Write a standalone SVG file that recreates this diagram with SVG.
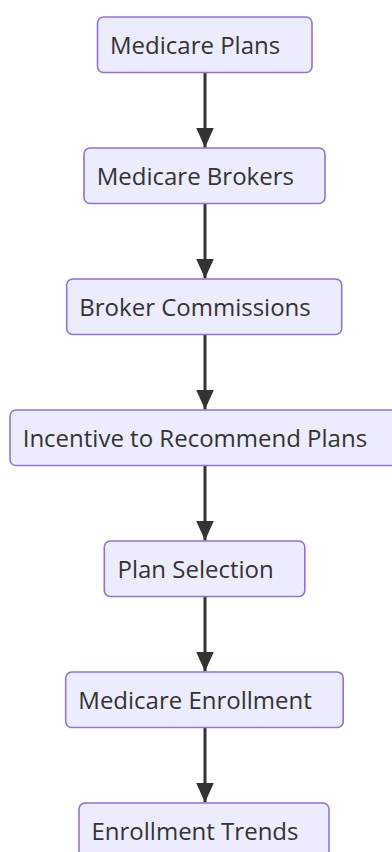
<svg xmlns="http://www.w3.org/2000/svg" width="392" height="852" viewBox="0 0 392 852">
  <style>
    .node rect { fill: #ECECFF; stroke: #9370DB; stroke-width: 1.6; }
    .node text { font-family: "Open Sans", "Noto Sans", "Liberation Sans", sans-serif; font-size: 24px; fill: #333333; }
    .edges line { stroke: #333333; stroke-width: 3; }
  </style>
  <defs>
    <marker id="arrow" markerUnits="userSpaceOnUse" viewBox="0 0 20 18" refX="20" refY="9" markerWidth="20" markerHeight="18" orient="auto">
      <path d="M0,0 L20,9 L0,18 Z" fill="#333333"/>
    </marker>
  </defs>
  <rect width="392" height="852" fill="#FFFFFF"/>

  <!-- connectors -->
  <g class="edges">
    <line x1="205" y1="72.5" x2="205" y2="147.5" marker-end="url(#arrow)"/>
    <line x1="205" y1="203.5" x2="205" y2="278.5" marker-end="url(#arrow)"/>
    <line x1="205" y1="334.5" x2="205" y2="409.5" marker-end="url(#arrow)"/>
    <line x1="205" y1="465.5" x2="205" y2="540.5" marker-end="url(#arrow)"/>
    <line x1="205" y1="596.5" x2="205" y2="671.5" marker-end="url(#arrow)"/>
    <line x1="205" y1="727.5" x2="205" y2="802.5" marker-end="url(#arrow)"/>
  </g>

  <!-- nodes -->
  <g id="medicare-plans" class="node">
    <rect x="97.5" y="17" width="214.5" height="55.5" rx="6"/>
    <text x="110" y="54.3">Medicare Plans</text>
  </g>
  <g id="medicare-brokers" class="node">
    <rect x="84" y="148" width="241" height="55.5" rx="6"/>
    <text x="96.7" y="185.3">Medicare Brokers</text>
  </g>
  <g id="broker-commissions" class="node">
    <rect x="66.7" y="279" width="275" height="55.5" rx="6"/>
    <text x="79.3" y="316.3">Broker Commissions</text>
  </g>
  <g id="incentive" class="node">
    <rect x="10" y="410" width="390" height="55.5" rx="6"/>
    <text x="22.7" y="447.3">Incentive to Recommend Plans</text>
  </g>
  <g id="plan-selection" class="node">
    <rect x="104.3" y="541" width="200.5" height="55.5" rx="6"/>
    <text x="117.5" y="578.3">Plan Selection</text>
  </g>
  <g id="medicare-enrollment" class="node">
    <rect x="65.7" y="672" width="277.5" height="55.5" rx="6"/>
    <text x="78.3" y="709.3">Medicare Enrollment</text>
  </g>
  <g id="enrollment-trends" class="node">
    <rect x="79" y="803" width="250" height="55.5" rx="6"/>
    <text x="91.5" y="840.3">Enrollment Trends</text>
  </g>
</svg>
